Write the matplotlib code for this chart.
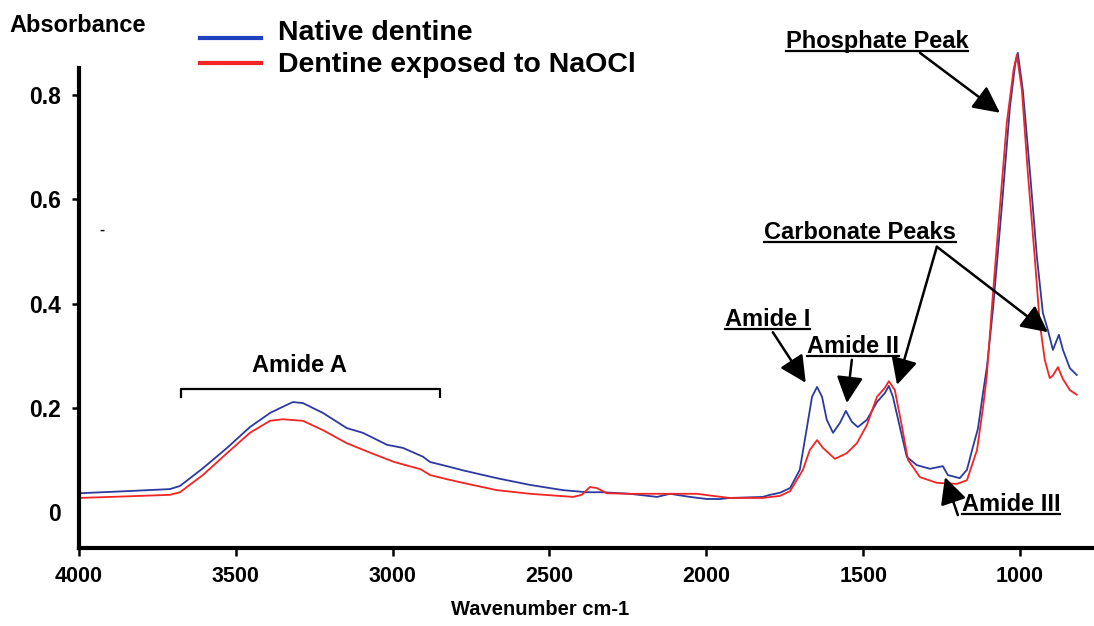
import matplotlib
matplotlib.use("Agg")
import matplotlib.pyplot as plt
from matplotlib.lines import Line2D

plt.rcParams["font.family"] = ["Liberation Sans", "DejaVu Sans"]
plt.rcParams["font.weight"] = "bold"

# FTIR spectra (wavenumber cm-1, absorbance)
wn_native = [4000, 3850, 3710, 3678, 3605, 3528, 3455, 3391, 3350, 3318, 3286, 3222, 3146,
             3095, 3018, 2967, 2903, 2881, 2827, 2776, 2668, 2562, 2457, 2381, 2330, 2244,
             2157, 2116, 2052, 1998, 1957, 1925, 1820, 1797, 1765, 1733, 1702, 1679, 1663,
             1647, 1631, 1616, 1596, 1574, 1555, 1536, 1517, 1488, 1456, 1431, 1418, 1405,
             1383, 1361, 1329, 1287, 1246, 1230, 1192, 1169, 1150, 1134, 1118, 1105, 1086,
             1058, 1032, 1015, 1007, 991, 968, 946, 927, 911, 895, 876, 863, 841, 819]
abs_native = [0.036, 0.040, 0.044, 0.050, 0.084, 0.123, 0.163, 0.190, 0.202, 0.211, 0.209, 0.190, 0.161,
              0.152, 0.129, 0.123, 0.106, 0.096, 0.088, 0.080, 0.065, 0.052, 0.042, 0.038, 0.038, 0.035,
              0.029, 0.035, 0.029, 0.025, 0.025, 0.027, 0.029, 0.033, 0.037, 0.046, 0.081, 0.163, 0.221,
              0.240, 0.221, 0.177, 0.152, 0.171, 0.194, 0.173, 0.163, 0.177, 0.211, 0.228, 0.242, 0.221,
              0.163, 0.106, 0.090, 0.083, 0.088, 0.071, 0.065, 0.081, 0.125, 0.160, 0.228, 0.280, 0.390,
              0.585, 0.777, 0.860, 0.881, 0.810, 0.651, 0.489, 0.382, 0.349, 0.311, 0.340, 0.311, 0.276, 0.263]

wn_naocl = [4000, 3850, 3710, 3678, 3605, 3528, 3455, 3391, 3350, 3286, 3222, 3146, 3068,
            2995, 2910, 2881, 2827, 2776, 2668, 2562, 2425, 2397, 2371, 2349, 2317, 2244,
            2138, 2030, 1979, 1925, 1820, 1765, 1733, 1692, 1670, 1647, 1628, 1590, 1552,
            1520, 1488, 1456, 1431, 1418, 1399, 1376, 1357, 1319, 1265, 1201, 1169, 1137,
            1118, 1106, 1086, 1064, 1042, 1020, 1010, 994, 975, 953, 937, 921, 905, 895,
            879, 863, 841, 819]
abs_naocl = [0.027, 0.030, 0.033, 0.038, 0.071, 0.113, 0.152, 0.175, 0.178, 0.175, 0.157, 0.132, 0.113,
             0.096, 0.082, 0.071, 0.063, 0.056, 0.042, 0.035, 0.029, 0.033, 0.048, 0.046, 0.036, 0.035,
             0.035, 0.035, 0.031, 0.027, 0.027, 0.031, 0.040, 0.081, 0.119, 0.138, 0.123, 0.102, 0.113,
             0.132, 0.167, 0.221, 0.238, 0.251, 0.234, 0.163, 0.100, 0.067, 0.056, 0.054, 0.061, 0.119,
             0.200, 0.260, 0.420, 0.585, 0.747, 0.850, 0.877, 0.810, 0.651, 0.489, 0.363, 0.292, 0.257, 0.262,
             0.278, 0.255, 0.234, 0.225]

x_ticks = [4000, 3500, 3000, 2500, 2000, 1500, 1000]
y_ticks = [0, 0.2, 0.4, 0.6, 0.8]
y_tick_labels = ["0", "0.2", "0.4", "0.6", "0.8"]

BLUE = "#2b3a9e"
RED = "#f22424"

fig = plt.figure(figsize=(10.94, 6.26), dpi=100)
ax = fig.add_axes([0.0722, 0.1246, 0.9278, 0.8435])

ax.plot(wn_native, abs_native, color=BLUE, lw=1.3)
ax.plot(wn_naocl, abs_naocl, color=RED, lw=1.3)

ax.set_xlim(4000, 764)
ax.set_ylim(-0.069, 0.944)
ax.spines["top"].set_visible(False)
ax.spines["right"].set_visible(False)
for side in ("left", "bottom"):
    ax.spines[side].set_linewidth(3)
ax.spines["left"].set_bounds(-0.069, 0.852)

ax.set_xticks(x_ticks)
ax.set_xticklabels([str(t) for t in x_ticks])
ax.set_yticks(y_ticks)
ax.set_yticklabels(y_tick_labels)
ax.tick_params(axis="x", direction="out", length=6, width=1.8, pad=7, labelsize=15.5)
ax.tick_params(axis="y", direction="out", length=5, width=1.8, pad=8, labelsize=16.5)
ax.yaxis.get_major_ticks()[0].tick1line.set_visible(False)

# annotations
label_kw = dict(fontsize=17, fontweight="bold", ha="center", va="center")
arrow_kw = dict(arrowstyle="-|>,head_length=0.9,head_width=0.45", color="black", lw=1.8,
                shrinkA=0, shrinkB=0, mutation_scale=18)

labels = []
labels.append(ax.text(1456, 0.902, "Phosphate Peak", **label_kw))
labels.append(ax.text(1510, 0.537, "Carbonate Peaks", **label_kw))
labels.append(ax.text(1804, 0.369, "Amide I", **label_kw))
labels.append(ax.text(1533, 0.317, "Amide II", **label_kw))
labels.append(ax.text(1029, 0.015, "Amide III", **label_kw))

ax.annotate("", xy=(1064, 0.766), xytext=(1319, 0.881), arrowprops=arrow_kw)
ax.annotate("", xy=(1392, 0.244), xytext=(1265, 0.509), arrowprops=arrow_kw)
ax.annotate("", xy=(911, 0.345), xytext=(1265, 0.509), arrowprops=arrow_kw)
ax.annotate("", xy=(1683, 0.248), xytext=(1788, 0.345), arrowprops=arrow_kw)
ax.annotate("", xy=(1552, 0.209), xytext=(1536, 0.292), arrowprops=arrow_kw)
ax.annotate("", xy=(1239, 0.067), xytext=(1198, -0.006), arrowprops=arrow_kw)

# Amide A bracket
ax.text(3296, 0.282, "Amide A", **label_kw)
ax.plot([3675, 3675, 2849, 2849], [0.221, 0.236, 0.236, 0.221], color="black", lw=1.6)
ax.text(3927, 0.541, "-", fontsize=11, ha="center", va="center")

# legend drawn by hand, as in the original figure
fig.add_artist(Line2D([0.183, 0.239], [0.939, 0.939], color="#1f3fbf", lw=3))
fig.add_artist(Line2D([0.183, 0.239], [0.899, 0.899], color=RED, lw=3))
fig.text(0.254, 0.947, "Native dentine", fontsize=20.5, fontweight="bold", va="center")
fig.text(0.254, 0.896, "Dentine exposed to NaOCl", fontsize=20.5, fontweight="bold", va="center")

fig.text(0.009, 0.960, "Absorbance", fontsize=17, fontweight="bold", va="center")
fig.text(0.494, 0.026, "Wavenumber cm-1", fontsize=14.5, fontweight="bold", ha="center", va="center")

# underline the peak labels
fig.canvas.draw()
renderer = fig.canvas.get_renderer()
inv = fig.transFigure.inverted()
for t in labels:
    bb = t.get_window_extent(renderer)
    (x0, y0), (x1, _) = inv.transform([(bb.x0, bb.y0 + 2), (bb.x1, bb.y1)])
    fig.add_artist(Line2D([x0, x1], [y0, y0], color="black", lw=1.6))

fig.savefig("out.png", dpi=100)
